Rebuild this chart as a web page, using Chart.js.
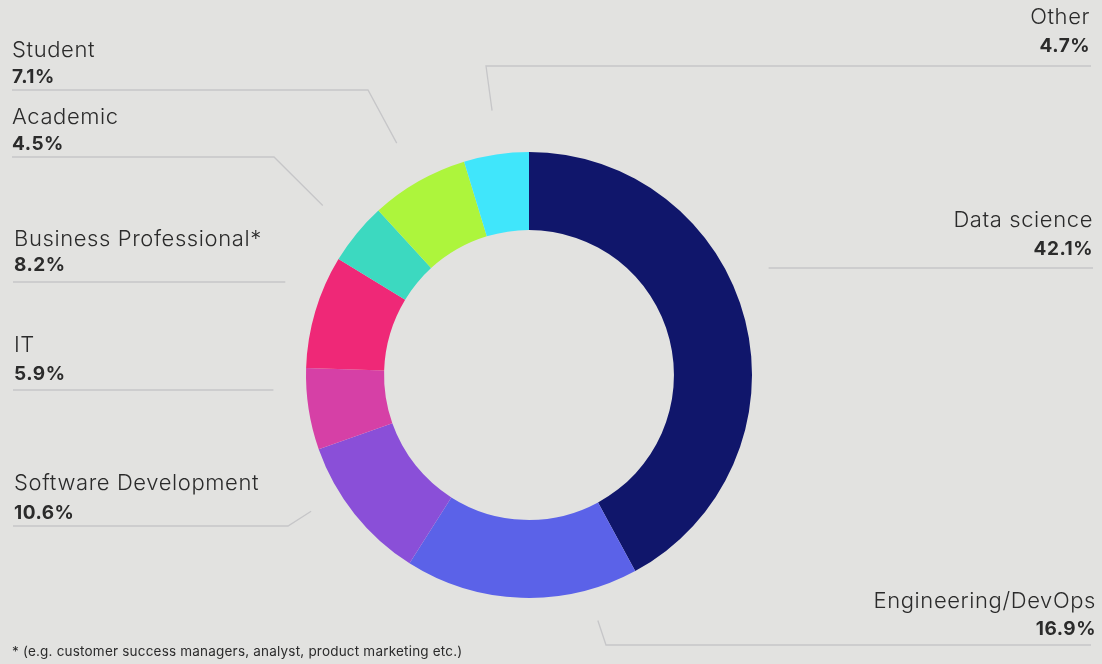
<!DOCTYPE html>
<html>
<head>
<meta charset="utf-8">
<script src="https://cdn.jsdelivr.net/npm/chart.js@4.4.1/dist/chart.umd.min.js"></script>
<style>
  html, body { margin: 0; padding: 0; background: #e2e2e0; }
  #wrap { position: relative; width: 1102px; height: 664px; }
  .note { position: absolute; left: 12px; top: 643px; font: 13.5px 'Inter', sans-serif; letter-spacing: 0.2px; color: #2b2b2b; }
</style>
</head>
<body>
<div id="wrap">
  <canvas id="grafico" width="1102" height="664"></canvas>
  <div class="note">* (e.g. customer success managers, analyst, product marketing etc.)</div>
</div>
<script>
const categories = ['Data science', 'Engineering/DevOps', 'Software Development', 'IT',
  'Business Professional*', 'Academic', 'Student', 'Other'];
const shares = [42.1, 16.9, 10.6, 5.9, 8.2, 4.5, 7.1, 4.7];
const colori = ['#10166b', '#5b62e8', '#8a4fd8', '#d640a6', '#ef2877', '#3cd9c0', '#adf53c', '#40e6fb'];

// where each callout sits: text anchor, baselines, rule, elbow and the point on the ring (t along the arc, r from centre)
const callouts = [
  { side: 'right', x: 1093, nameY: 227, pctY: 255, lineY: 268, lineEnd: 1093, t: 0.43, r: 264 },
  { side: 'right', x: 1096, nameY: 608, pctY: 635, lineY: 645, lineEnd: 1091, elbowX: 606, t: 0.21, r: 255 },
  { side: 'left', x: 14, nameY: 490, pctY: 519, lineY: 526, lineEnd: 13, elbowX: 288, t: 0.67, r: 257 },
  { side: 'left', x: 14, nameY: 352, pctY: 380, lineY: 390, lineEnd: 13, t: 0.76, r: 256 },
  { side: 'left', x: 14, nameY: 246, pctY: 271, lineY: 282, lineEnd: 13, t: 0.65, r: 261 },
  { side: 'left', x: 12, nameY: 124, pctY: 150, lineY: 157, lineEnd: 12, elbowX: 274, t: 0.5, r: 267 },
  { side: 'left', x: 12, nameY: 57, pctY: 83, lineY: 90, lineEnd: 12, elbowX: 368, t: 0.5, r: 267 },
  { side: 'right', x: 1090, nameY: 24, pctY: 52, lineY: 66, lineEnd: 1091, elbowX: 486, t: 0.53, r: 267 }
];

const etichette = {
  id: 'etichette',
  afterDraw(chart) {
    const c = chart.ctx;
    const archi = chart.getDatasetMeta(0).data;
    c.save();
    archi.forEach((arc, i) => {
      const o = callouts[i];
      const { x, y, startAngle, endAngle } = arc.getProps(['x', 'y', 'startAngle', 'endAngle'], true);
      const a = startAngle + (endAngle - startAngle) * o.t;
      const px = x + Math.cos(a) * o.r;
      const py = y + Math.sin(a) * o.r;

      // leader line
      c.strokeStyle = '#c6c6c8';
      c.lineWidth = 1.3;
      c.beginPath();
      c.moveTo(o.lineEnd, o.lineY);
      if (o.elbowX !== undefined) {
        c.lineTo(o.elbowX, o.lineY);
        c.lineTo(px, py);
      } else {
        c.lineTo(px, o.lineY);
      }
      c.stroke();

      // label text
      c.fillStyle = '#2b2b2b';
      c.textAlign = o.side === 'left' ? 'left' : 'right';
      c.textBaseline = 'alphabetic';
      c.letterSpacing = '0.6px';
      c.font = '300 22px Inter, sans-serif';
      c.fillText(chart.data.labels[i], o.x, o.nameY);
      c.letterSpacing = '0.5px';
      c.font = '700 19px Inter, sans-serif';
      c.fillText(shares[i].toFixed(1) + '%', o.x, o.pctY);
    });
    c.restore();
  }
};

new Chart(document.getElementById('grafico'), {
  type: 'doughnut',
  data: {
    labels: categories,
    datasets: [{
      data: shares,
      backgroundColor: colori,
      borderWidth: 0
    }]
  },
  options: {
    responsive: false,
    animation: false,
    cutout: '65%',
    layout: { padding: { top: 152, bottom: 66, left: 200, right: 244 } },
    plugins: {
      legend: { display: false },
      tooltip: { enabled: false }
    }
  },
  plugins: [etichette]
});
</script>
</body>
</html>
